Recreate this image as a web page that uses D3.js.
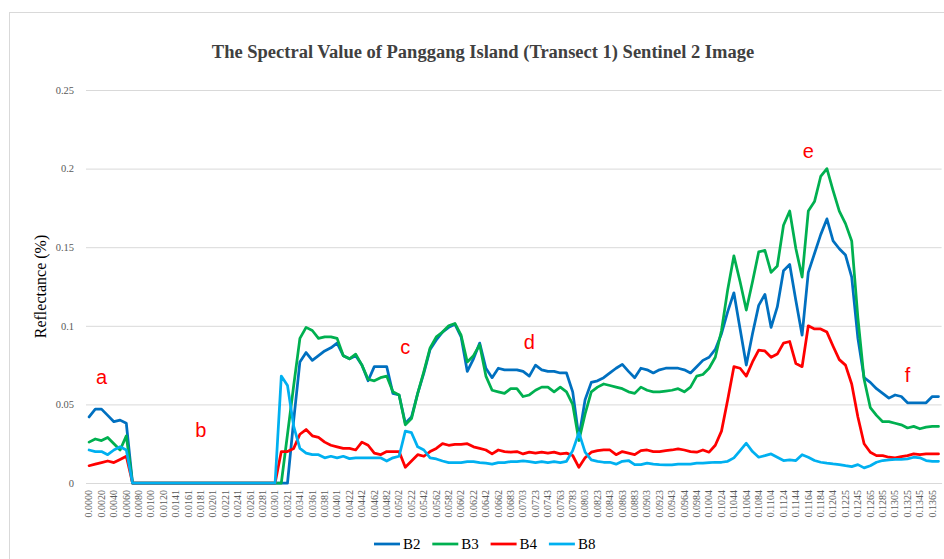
<!DOCTYPE html>
<html>
<head>
<meta charset="utf-8">
<script src="https://cdn.jsdelivr.net/npm/d3@7"></script>
<style>
  body { margin: 0; background: #fff; }
  svg { display: block; }
</style>
</head>
<body>
<div id="chart"></div>
<script>
// tick labels shown under every second point (distance along transect)
const xLabels = ["0.0000", "0.0020", "0.0040", "0.0060", "0.0080", "0.0100", "0.0120", "0.0141", "0.0161", "0.0181",
    "0.0201", "0.0221", "0.0241", "0.0261", "0.0281", "0.0301", "0.0321", "0.0341", "0.0361", "0.0381",
    "0.0401", "0.0422", "0.0442", "0.0462", "0.0482", "0.0502", "0.0522", "0.0542", "0.0562", "0.0582",
    "0.0602", "0.0622", "0.0642", "0.0662", "0.0683", "0.0703", "0.0723", "0.0743", "0.0763", "0.0783",
    "0.0803", "0.0823", "0.0843", "0.0863", "0.0883", "0.0903", "0.0923", "0.0943", "0.0964", "0.0984",
    "0.1004", "0.1024", "0.1044", "0.1064", "0.1084", "0.1104", "0.1124", "0.1144", "0.1164", "0.1184",
    "0.1204", "0.1225", "0.1245", "0.1265", "0.1285", "0.1305", "0.1325", "0.1345", "0.1365"]

const yTicks = [0, 0.05, 0.1, 0.15, 0.2, 0.25]

const b2 = [0.042, 0.047, 0.047, 0.043, 0.039, 0.040, 0.038, 0, 0, 0,
    0, 0, 0, 0, 0, 0, 0, 0, 0, 0,
    0, 0, 0, 0, 0, 0, 0, 0, 0, 0,
    0, 0, 0, 0.040, 0.077, 0.083, 0.078, 0.081, 0.084, 0.086,
    0.089, 0.081, 0.079, 0.081, 0.075, 0.065, 0.074, 0.074, 0.074, 0.057,
    0.056, 0.038, 0.042, 0.057, 0.070, 0.085, 0.091, 0.096, 0.099, 0.101,
    0.093, 0.071, 0.079, 0.089, 0.073, 0.067, 0.073, 0.072, 0.072, 0.072,
    0.071, 0.068, 0.075, 0.072, 0.071, 0.071, 0.070, 0.070, 0.058, 0.029,
    0.053, 0.064, 0.065, 0.067, 0.070, 0.073, 0.0755, 0.071, 0.067, 0.073,
    0.072, 0.070, 0.072, 0.073, 0.073, 0.073, 0.072, 0.070, 0.074, 0.078,
    0.080, 0.085, 0.095, 0.109, 0.121, 0.098, 0.075, 0.095, 0.113, 0.120,
    0.099, 0.112, 0.135, 0.139, 0.116, 0.094, 0.134, 0.146, 0.158, 0.168,
    0.154, 0.149, 0.145, 0.131, 0.092, 0.067, 0.064, 0.060, 0.057, 0.054,
    0.056, 0.055, 0.051, 0.051, 0.051, 0.051, 0.055, 0.055]

const b3 = [0.026, 0.028, 0.027, 0.029, 0.025, 0.021, 0.030, 0, 0, 0,
    0, 0, 0, 0, 0, 0, 0, 0, 0, 0,
    0, 0, 0, 0, 0, 0, 0, 0, 0, 0,
    0, 0, 0.031, 0.062, 0.092, 0.099, 0.097, 0.092, 0.093, 0.093,
    0.092, 0.081, 0.079, 0.082, 0.075, 0.066, 0.065, 0.067, 0.068, 0.058,
    0.056, 0.037, 0.041, 0.057, 0.071, 0.086, 0.093, 0.096, 0.100, 0.1015,
    0.094, 0.077, 0.081, 0.088, 0.068, 0.059, 0.058, 0.057, 0.060, 0.060,
    0.055, 0.056, 0.059, 0.061, 0.061, 0.058, 0.061, 0.058, 0.050, 0.027,
    0.044, 0.058, 0.061, 0.063, 0.062, 0.061, 0.060, 0.058, 0.057, 0.061,
    0.059, 0.058, 0.058, 0.0585, 0.059, 0.060, 0.058, 0.061, 0.068, 0.069,
    0.073, 0.080, 0.097, 0.123, 0.1445, 0.128, 0.110, 0.128, 0.147, 0.148,
    0.134, 0.138, 0.164, 0.173, 0.149, 0.131, 0.173, 0.179, 0.195, 0.200,
    0.186, 0.173, 0.165, 0.154, 0.105, 0.066, 0.048, 0.043, 0.039, 0.039,
    0.038, 0.037, 0.035, 0.036, 0.0345, 0.0355, 0.036, 0.036]

const b4 = [0.011, 0.012, 0.013, 0.014, 0.013, 0.015, 0.017, 0, 0, 0,
    0, 0, 0, 0, 0, 0, 0, 0, 0, 0,
    0, 0, 0, 0, 0, 0, 0, 0, 0, 0,
    0, 0.020, 0.020, 0.022, 0.031, 0.034, 0.030, 0.029, 0.026, 0.024,
    0.023, 0.022, 0.022, 0.021, 0.026, 0.024, 0.019, 0.018, 0.020, 0.020,
    0.020, 0.010, 0.014, 0.018, 0.017, 0.020, 0.022, 0.025, 0.024, 0.0245,
    0.0245, 0.025, 0.023, 0.022, 0.021, 0.0185, 0.021, 0.020, 0.0196, 0.020,
    0.0185, 0.0196, 0.019, 0.0196, 0.019, 0.0196, 0.0185, 0.019, 0.0175, 0.010,
    0.016, 0.0196, 0.0206, 0.021, 0.021, 0.018, 0.020, 0.019, 0.018, 0.0206,
    0.021, 0.020, 0.020, 0.0206, 0.021, 0.0217, 0.021, 0.020, 0.0196, 0.021,
    0.0196, 0.024, 0.033, 0.053, 0.074, 0.073, 0.068, 0.077, 0.0845, 0.084,
    0.080, 0.082, 0.089, 0.090, 0.076, 0.074, 0.100, 0.098, 0.098, 0.096,
    0.087, 0.0785, 0.075, 0.063, 0.042, 0.025, 0.0196, 0.0174, 0.0174, 0.0164,
    0.016, 0.0168, 0.0174, 0.0185, 0.018, 0.0185, 0.0185, 0.0185]

const b8 = [0.021, 0.020, 0.020, 0.018, 0.021, 0.023, 0.021, 0, 0, 0,
    0, 0, 0, 0, 0, 0, 0, 0, 0, 0,
    0, 0, 0, 0, 0, 0, 0, 0, 0, 0,
    0, 0.068, 0.062, 0.036, 0.022, 0.019, 0.018, 0.018, 0.016, 0.017,
    0.016, 0.017, 0.0155, 0.016, 0.016, 0.016, 0.016, 0.016, 0.014, 0.016,
    0.017, 0.033, 0.032, 0.023, 0.021, 0.016, 0.0153, 0.014, 0.013, 0.013,
    0.013, 0.0136, 0.0136, 0.013, 0.0126, 0.012, 0.013, 0.013, 0.0136, 0.0136,
    0.014, 0.0136, 0.013, 0.0136, 0.013, 0.0136, 0.013, 0.0138, 0.0206, 0.032,
    0.0196, 0.0147, 0.0138, 0.0132, 0.0132, 0.012, 0.0138, 0.0143, 0.0117, 0.0117,
    0.0126, 0.012, 0.0117, 0.0115, 0.0115, 0.012, 0.012, 0.012, 0.0126, 0.0126,
    0.013, 0.0132, 0.0132, 0.0138, 0.016, 0.0206, 0.0253, 0.020, 0.0164, 0.0174,
    0.0185, 0.0164, 0.0143, 0.0147, 0.0143, 0.018, 0.0164, 0.0143, 0.0132, 0.0126,
    0.0121, 0.0117, 0.011, 0.0104, 0.0117, 0.0096, 0.011, 0.0132, 0.0143, 0.0147,
    0.0151, 0.0151, 0.0153, 0.0164, 0.016, 0.0143, 0.0138, 0.0138]

const seriesNames = ["B2", "B3", "B4", "B8"]
const seriesColors = ["#0070C0", "#00B050", "#FF0000", "#00B0F0"]
const seriesValues = [b2, b3, b4, b8]

// red letters marking the zones along the transect
const zoneLetters = ["a", "b", "c", "d", "e", "f"]
const zoneIndex = [2, 18, 51, 71, 116, 132]
const zoneValue = [0.063, 0.029, 0.082, 0.085, 0.207, 0.064]

const WIDTH = 944
const HEIGHT = 559
const PLOT_LEFT = 86
const PLOT_RIGHT = 941.6
const PLOT_TOP = 90
const PLOT_BOTTOM = 483
const GRID_COLOR = "#d9d9d9"
const TEXT_COLOR = "#595959"

const svg = d3.select("#chart").append("svg")
    .attr("width", WIDTH)
    .attr("height", HEIGHT)

// chart frame (right and bottom edges fall outside the picture)
svg.append("rect")
    .attr("x", 9.5)
    .attr("y", 12.5)
    .attr("width", 960)
    .attr("height", 600)
    .attr("fill", "white")
    .attr("stroke", GRID_COLOR)
    .attr("stroke-width", 1)

const x = d3.scaleBand()
    .domain(d3.range(b2.length))
    .range([PLOT_LEFT, PLOT_RIGHT])
const xc = i => x(i) + x.bandwidth() / 2

const y = d3.scaleLinear()
    .domain([0, 0.25])
    .range([PLOT_BOTTOM, PLOT_TOP])

// gridlines
svg.append("g")
    .attr("transform", "translate(" + PLOT_LEFT + ",0)")
    .call(d3.axisLeft(y).tickValues(yTicks).tickSize(-(PLOT_RIGHT - PLOT_LEFT)).tickFormat(""))
    .call(g => g.select(".domain").remove())
    .call(g => g.selectAll("line").attr("stroke", GRID_COLOR).attr("stroke-width", 1))

// y tick labels
svg.append("g")
    .attr("transform", "translate(" + PLOT_LEFT + ",0)")
    .call(d3.axisLeft(y).tickValues(yTicks).tickSize(0).tickPadding(12).tickFormat(d => d3.format("~g")(d)))
    .call(g => g.select(".domain").remove())
    .call(g => g.selectAll("text")
        .attr("fill", TEXT_COLOR)
        .style("font-family", "'Liberation Serif', 'Times New Roman', serif")
        .style("font-size", "10.5px"))

// x tick labels, vertical
svg.append("g")
    .attr("transform", "translate(0," + PLOT_BOTTOM + ")")
    .call(d3.axisBottom(x).tickValues(d3.range(0, b2.length, 2)).tickSize(0).tickFormat(i => xLabels[i / 2]))
    .call(g => g.select(".domain").attr("stroke", GRID_COLOR))
    .call(g => g.selectAll("text")
        .attr("transform", "rotate(-90)")
        .attr("x", -7)
        .attr("y", 0)
        .attr("dy", "0.33em")
        .attr("text-anchor", "end")
        .attr("fill", TEXT_COLOR)
        .style("font-family", "'Liberation Serif', 'Times New Roman', serif")
        .style("font-size", "10px"))

// series lines
const line = d3.line()
    .x((d, i) => xc(i))
    .y(d => y(d))

svg.append("g")
    .selectAll("path")
    .data(seriesValues)
    .join("path")
    .attr("d", d => line(d))
    .attr("fill", "none")
    .attr("stroke", (d, i) => seriesColors[i])
    .attr("stroke-width", 2.75)
    .attr("stroke-linejoin", "round")
    .attr("stroke-linecap", "round")

// zone letters
svg.append("g")
    .selectAll("text")
    .data(zoneLetters)
    .join("text")
    .attr("x", (d, i) => xc(zoneIndex[i]))
    .attr("y", (d, i) => y(zoneValue[i]))
    .attr("text-anchor", "middle")
    .attr("fill", "#FF0000")
    .style("font-family", "'Liberation Sans', Arial, sans-serif")
    .style("font-size", "20px")
    .text(d => d)

// title
svg.append("text")
    .attr("x", 483)
    .attr("y", 58)
    .attr("text-anchor", "middle")
    .attr("fill", "#404040")
    .style("font-family", "'Liberation Serif', 'Times New Roman', serif")
    .style("font-size", "18.5px")
    .style("font-weight", "bold")
    .text("The Spectral Value of Panggang Island (Transect 1) Sentinel 2 Image")

// y axis title
svg.append("text")
    .attr("transform", "translate(46," + ((PLOT_TOP + PLOT_BOTTOM) / 2) + ") rotate(-90)")
    .attr("text-anchor", "middle")
    .attr("fill", "#000")
    .style("font-family", "'Liberation Serif', 'Times New Roman', serif")
    .style("font-size", "16px")
    .text("Reflectance (%)")

// legend
const legend = svg.append("g")
    .attr("transform", "translate(374,544)")
const items = legend.selectAll("g")
    .data(seriesNames)
    .join("g")
    .attr("transform", (d, i) => "translate(" + (i * 58.3) + ",0)")
items.append("line")
    .attr("x1", 0)
    .attr("x2", 26)
    .attr("stroke", (d, i) => seriesColors[i])
    .attr("stroke-width", 2.75)
items.append("text")
    .attr("x", 29)
    .attr("dy", "0.35em")
    .attr("fill", "#000")
    .style("font-family", "'Liberation Serif', 'Times New Roman', serif")
    .style("font-size", "15px")
    .text(d => d)
</script>
</body>
</html>
